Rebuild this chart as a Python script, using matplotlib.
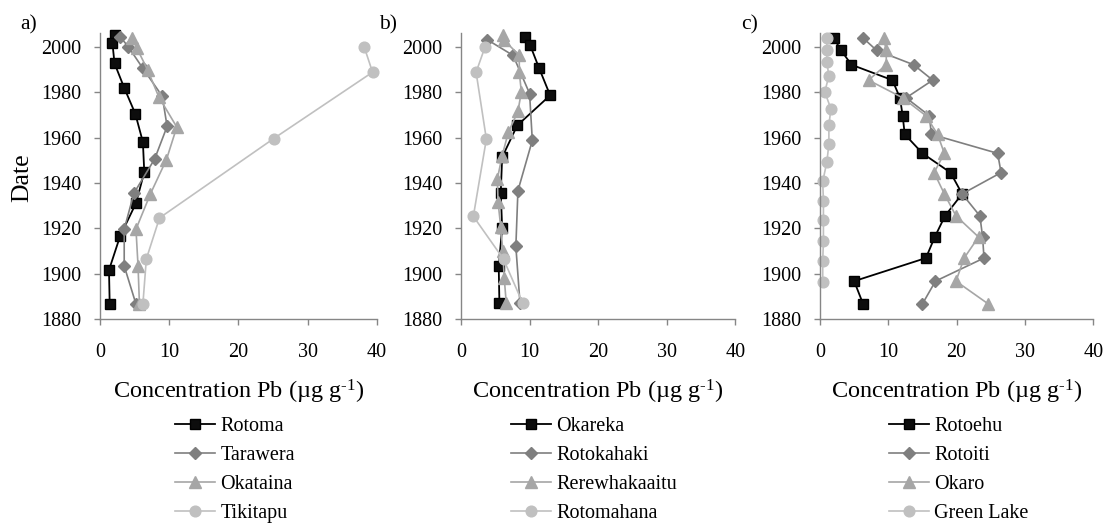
import matplotlib
matplotlib.use("Agg")
import matplotlib.pyplot as plt

plt.rcParams['font.family'] = ['Liberation Serif', 'DejaVu Serif']
plt.rcParams['mathtext.fontset'] = 'custom'
plt.rcParams['mathtext.rm'] = 'Liberation Serif'
plt.rcParams['mathtext.default'] = 'regular'

# ---------------- data ----------------
# panel a
rotoma_year = [2005.3, 2001.6, 1992.8, 1982.0, 1970.6, 1958.1, 1944.8, 1931.1, 1916.5, 1901.6, 1886.6]
rotoma_pb = [2.2, 1.8, 2.1, 3.5, 5.1, 6.2, 6.4, 5.2, 2.9, 1.3, 1.4]
tarawera_year = [2004.6, 2000.1, 1990.6, 1978.3, 1965.0, 1950.6, 1935.5, 1919.6, 1903.4, 1886.6]
tarawera_pb = [2.9, 4.1, 6.2, 9.0, 9.7, 7.9, 4.9, 3.5, 3.5, 5.2]
okataina_year = [2003.8, 1999.7, 1989.8, 1978.0, 1964.7, 1950.3, 1935.3, 1919.6, 1903.4, 1886.6]
okataina_pb = [4.6, 5.3, 6.9, 8.5, 11.1, 9.6, 7.3, 5.2, 5.5, 5.7]
tikitapu_year = [2000.0, 1988.9, 1959.6, 1924.6, 1906.5, 1886.6]
tikitapu_pb = [38.2, 39.4, 25.1, 8.6, 6.7, 6.2]

# panel b
okareka_year = [2004.5, 2000.7, 1990.6, 1978.7, 1965.4, 1951.4, 1935.8, 1920.2, 1903.4, 1887.0]
okareka_pb = [9.4, 10.1, 11.4, 13.0, 8.2, 6.0, 5.8, 6.0, 5.5, 5.6]
rotokahaki_year = [2003.3, 1996.3, 1979.5, 1958.8, 1936.6, 1912.0, 1887.0]
rotokahaki_pb = [3.8, 7.6, 10.0, 10.4, 8.3, 8.0, 8.6]
rerewhakaaitu_year = [2005.2, 2003.0, 1996.3, 1988.9, 1980.2, 1971.6, 1962.4, 1952.0, 1941.8,
                      1931.7, 1920.5, 1910.1, 1898.2, 1887.0]
rerewhakaaitu_pb = [6.1, 6.3, 8.5, 8.5, 8.8, 8.3, 6.9, 6.0, 5.3, 5.4, 5.8, 6.1, 6.3, 6.6]
rotomahana_year = [2000.0, 1988.9, 1959.4, 1925.3, 1906.4, 1887.0]
rotomahana_pb = [3.5, 2.2, 3.7, 1.8, 6.2, 9.0]

# panel c
c_year = [2004.0, 1998.5, 1992.2, 1985.4, 1977.6, 1969.7, 1961.5, 1953.1, 1944.6,
          1935.2, 1925.5, 1916.2, 1906.9, 1896.7, 1886.7]
rotoehu_pb = [2.0, 3.1, 4.6, 10.6, 11.7, 12.1, 12.4, 15.0, 19.1, 20.8, 18.3, 16.8, 15.5, 5.0, 6.3]
rotoiti_pb = [6.3, 8.3, 13.7, 16.5, 12.6, 16.0, 16.3, 26.0, 26.5, 20.8, 23.4, 23.8, 24.0, 16.9, 15.0]
okaro_pb = [9.3, 9.7, 9.7, 7.1, 12.1, 15.5, 17.2, 18.2, 16.7, 18.2, 19.9, 23.2, 21.1, 19.9, 24.6]
greenlake_year = [2004.0, 1998.8, 1993.3, 1987.3, 1980.2, 1972.7, 1965.6, 1957.2, 1949.2,
                  1940.7, 1932.2, 1923.5, 1914.6, 1905.6, 1896.4]
greenlake_pb = [1.0, 1.0, 1.0, 1.3, 0.7, 1.6, 1.3, 1.3, 1.0, 0.4, 0.5, 0.5, 0.5, 0.4, 0.4]

x_ticks = [0, 10, 20, 30, 40]
y_ticks = [1880, 1900, 1920, 1940, 1960, 1980, 2000]
panel_labels = ['a)', 'b)', 'c)']
x_label = r'Concentration Pb (µg g$^{\text{-1}}$)'
y_label = 'Date'

panels = [
    [('Rotoma', rotoma_pb, rotoma_year), ('Tarawera', tarawera_pb, tarawera_year),
     ('Okataina', okataina_pb, okataina_year), ('Tikitapu', tikitapu_pb, tikitapu_year)],
    [('Okareka', okareka_pb, okareka_year), ('Rotokahaki', rotokahaki_pb, rotokahaki_year),
     ('Rerewhakaaitu', rerewhakaaitu_pb, rerewhakaaitu_year), ('Rotomahana', rotomahana_pb, rotomahana_year)],
    [('Rotoehu', rotoehu_pb, c_year), ('Rotoiti', rotoiti_pb, c_year),
     ('Okaro', okaro_pb, c_year), ('Green Lake', greenlake_pb, greenlake_year)],
]

# ---------------- styling ----------------
W, H = 1106, 529
styles = [
    dict(color='#000000', marker='s', markersize=7.4, mfc='#0d0d0d', mec='#000000', lw=1.3),
    dict(color='#7f7f7f', marker='D', markersize=6.2, mfc='#7f7f7f', mec='#7f7f7f', lw=1.2),
    dict(color='#a6a6a6', marker='^', markersize=8.2, mfc='#a6a6a6', mec='#a6a6a6', lw=1.2),
    dict(color='#c0c0c0', marker='o', markersize=7.7, mfc='#c0c0c0', mec='#c0c0c0', lw=1.2),
]
axis_px = [(100, 376.7), (461, 735.3), (820, 1093.3)]
legend_left_px = [175, 511, 889]
label_left_px = [20, 379, 741]
ax_top, ax_bot = 33, 319
spine_col = '#868686'

fig = plt.figure(figsize=(W / 100, H / 100), dpi=100)

for i, series in enumerate(panels):
    l, r = axis_px[i]
    ax = fig.add_axes([l / W, 1 - ax_bot / H, (r - l) / W, (ax_bot - ax_top) / H])
    handles = []
    for (name, xs, ys), st in zip(series, styles):
        h, = ax.plot(xs, ys, label=name, clip_on=False, **st)
        handles.append(h)
    ax.set_xlim(0, 40)
    ax.set_ylim(1880, 2006.2)
    ax.set_xticks(x_ticks)
    ax.set_yticks(y_ticks)
    for s in ['top', 'right']:
        ax.spines[s].set_visible(False)
    for s in ['left', 'bottom']:
        ax.spines[s].set_color(spine_col)
        ax.spines[s].set_linewidth(1.0)
    ax.tick_params(axis='both', direction='out', length=4, width=1.0, color=spine_col,
                   labelsize=14.5, labelcolor='black')
    ax.tick_params(axis='y', pad=9.5)
    ax.tick_params(axis='x', pad=13)
    ax.patch.set_alpha(0)
    cx = (l + r) / 2
    fig.text(cx / W, 1 - 392 / H, x_label, ha='center', va='center', fontsize=17.5)
    fig.text(label_left_px[i] / W, 1 - 25 / H, panel_labels[i], ha='left', va='center', fontsize=15.5)
    fig.legend(handles=handles, loc='center left',
               bbox_to_anchor=(legend_left_px[i] / W, 1 - 470 / H),
               frameon=False, fontsize=14.5, borderpad=0, borderaxespad=0,
               labelspacing=0.5, handlelength=2.0, handletextpad=0.25)

fig.text(22 / W, 1 - 178 / H, y_label, rotation=90, ha='center', va='center', fontsize=18.5)

fig.savefig('out.png', dpi=100)
